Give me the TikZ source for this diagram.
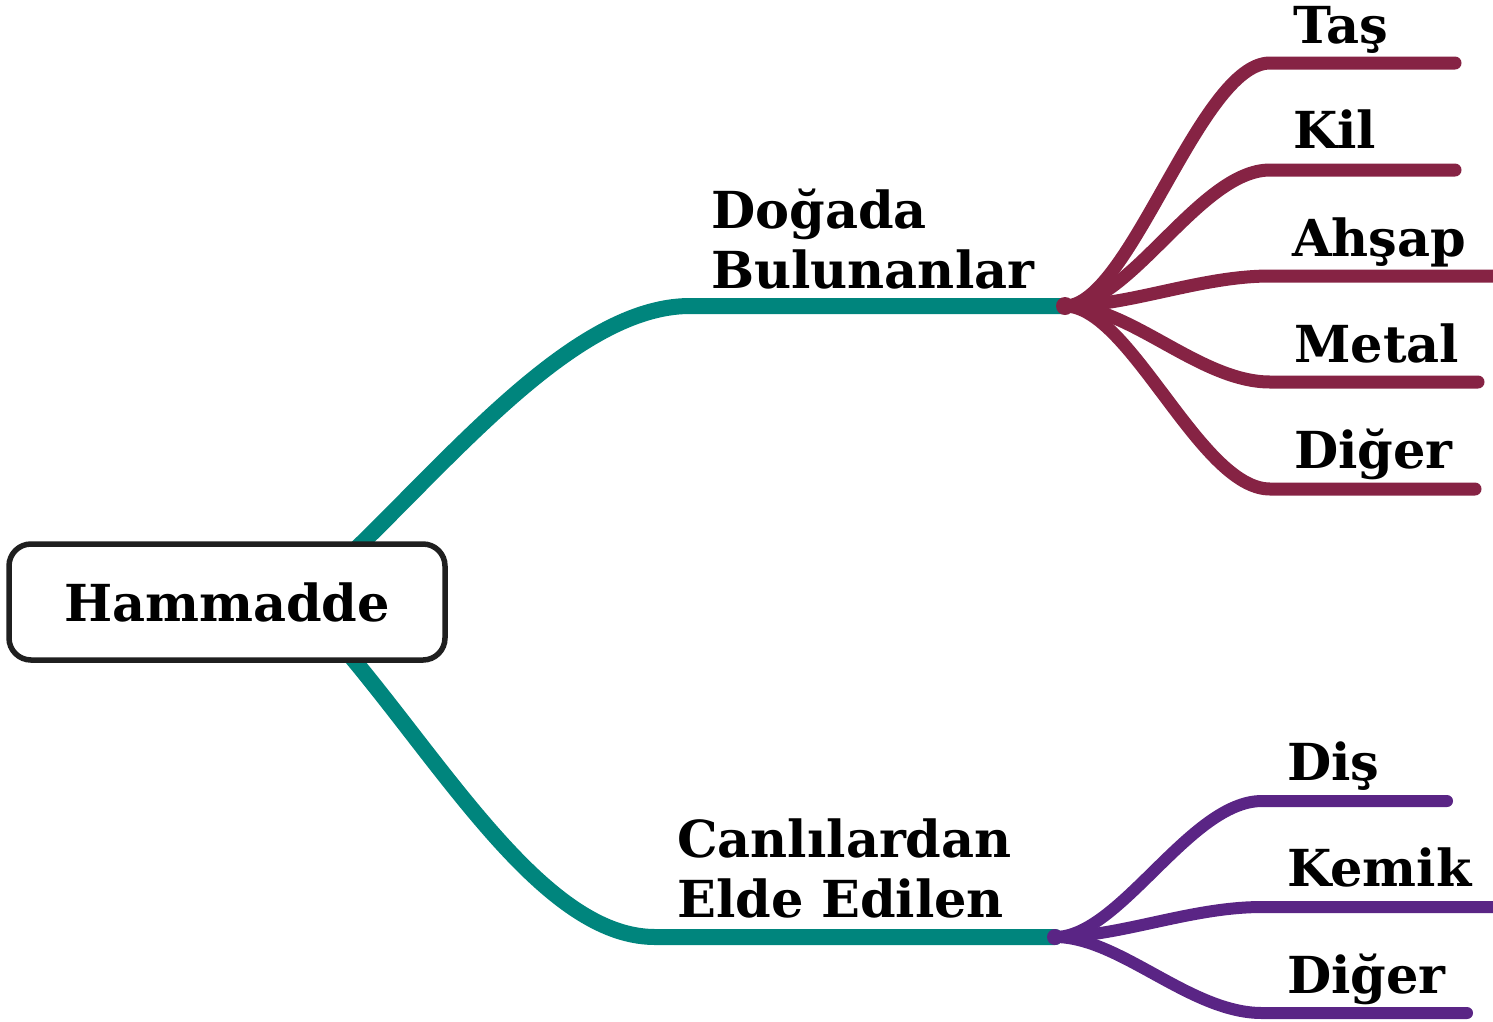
\documentclass[tikz,border=0pt]{standalone}
\usepackage{fontspec}
\setmainfont{DejaVu Serif}
\definecolor{tealc}{RGB}{0,133,125}
\definecolor{maroonc}{RGB}{134,35,68}
\definecolor{purplec}{RGB}{90,37,133}
\begin{document}
\begin{tikzpicture}[x=1pt,y=-1pt,
  lbl/.style={anchor=base west,inner sep=0pt,align=left,font=\fontsize{51}{60}\selectfont\bfseries},
  mainbr/.style={draw=tealc,line width=16pt,line cap=round},
  upbr/.style={draw=maroonc,line width=13pt,line cap=round},
  lowbr/.style={draw=purplec,line width=12pt,line cap=round},
  rootbox/.style={draw=black!88,line width=5.5pt,rounded corners=22pt,fill=white,minimum width=436pt,minimum height=116pt,inner sep=0pt,font=\fontsize{51}{58}\selectfont\bfseries}]
\useasboundingbox (0,0) rectangle (1493,1021);
% hubs and coordinates
\coordinate (r0) at (300,600);
\coordinate (hubA) at (1065,306);
\coordinate (hubB) at (1055,937);
\coordinate (a0) at (690,306);
\coordinate (b0) at (655,937);
% main branches
\draw[mainbr] (r0) .. controls (420,500) and (560,306) .. (a0) -- (hubA);
\draw[mainbr] (r0) .. controls (420,720) and (530,937) .. (b0) -- (hubB);
% upper sub-branches
\foreach \y/\e/\n in {63/1455/t1,170/1455/t2,276/1500/t3,382/1478/t4,489/1475/t5}{
  \coordinate (\n s) at (1270,\y);
  \coordinate (\n e) at (\e,\y);
  \draw[upbr] (hubA) .. controls (1130,306) and (1200,\y) .. (\n s) -- (\n e);
}
\fill[maroonc] (hubA) circle (9pt);
% lower sub-branches
\foreach \y/\e/\n in {801/1447/u1,907/1500/u2,1013/1467/u3}{
  \coordinate (\n s) at (1262,\y);
  \coordinate (\n e) at (\e,\y);
  \draw[lowbr] (hubB) .. controls (1120,937) and (1190,\y) .. (\n s) -- (\n e);
}
\fill[purplec] (hubB) circle (8pt);
% root
\node[rootbox] (root) at (227,602) {Hammadde};
% labels
\node[lbl] (la) at (711,288) {Doğada\\Bulunanlar};
\node[lbl] (lb) at (677,917) {Canlılardan\\Elde Edilen};
\node[lbl] (l1) at (1293,43) {Taş};
\node[lbl] (l2) at (1293,148) {Kil};
\node[lbl] (l3) at (1292,256) {Ahşap};
\node[lbl] (l4) at (1294,362) {Metal};
\node[lbl] (l5) at (1294,468) {Diğer};
\node[lbl] (m1) at (1287,780) {Diş};
\node[lbl] (m2) at (1287,886) {Kemik};
\node[lbl] (m3) at (1287,993) {Diğer};
\end{tikzpicture}
\end{document}
